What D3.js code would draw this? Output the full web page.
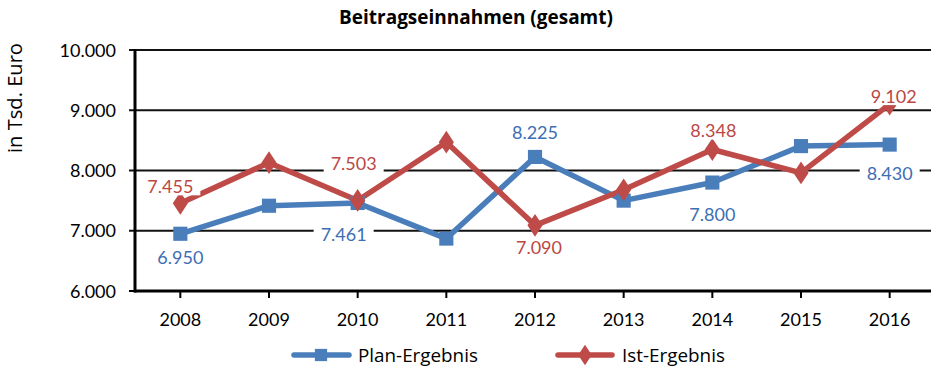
<!DOCTYPE html>
<html>
<head>
<meta charset="utf-8">
<script src="https://cdn.jsdelivr.net/npm/d3@7"></script>
<style>
  html, body { margin: 0; padding: 0; background: #fff; }
  svg { display: block; font-family: Lato, "Open Sans", sans-serif; }
</style>
</head>
<body>
<svg id="chart" width="931" height="368"></svg>
<script>
// Beitragseinnahmen 2008–2016, in Tsd. Euro
const years = ["2008", "2009", "2010", "2011", "2012", "2013", "2014", "2015", "2016"];
const planValues = [6950, 7415, 7461, 6870, 8225, 7500, 7800, 8405, 8430];
const istValues = [7455, 8130, 7503, 8470, 7090, 7680, 8348, 7960, 9102];
const yTicks = [6000, 7000, 8000, 9000, 10000];
// value labels shown for each series (null = no label)
const planLabels = [6950, null, 7461, null, 8225, null, 7800, null, 8430];
const istLabels = [7455, null, 7503, null, 7090, null, 8348, null, 9102];

const fmt = v => d3.format(",")(v).replace(/,/g, ".");

const blue = "#4A7EBB", red = "#BE4B48";
const blueText = "#3D6EB4", redText = "#BB4744";

const svg = d3.select("#chart");
const x = d3.scalePoint().domain(years).range([136, 934]).padding(0.5);
const y = d3.scaleLinear().domain([6000, 10000]).range([291, 50]);

// shrink or grow a text's font size until it spans the given width
function fitWidth(sel, width) {
  const n = sel.node();
  const fs = parseFloat(sel.attr("font-size"));
  const w = n.getComputedTextLength();
  sel.attr("font-size", (fs * width / w).toFixed(2));
  return sel;
}

// title
fitWidth(svg.append("text").attr("x", 476).attr("y", 24).attr("text-anchor", "middle")
  .attr("font-weight", "bold").attr("font-size", 17).attr("fill", "#000")
  .style("font-family", "'Open Sans', sans-serif")
  .text("Beitragseinnahmen (gesamt)"), 274);

// y axis title
fitWidth(svg.append("text").attr("transform", "translate(22,98) rotate(-90)")
  .attr("text-anchor", "middle").attr("font-size", 18).attr("fill", "#000")
  .style("font-family", "'Open Sans', sans-serif")
  .text("in Tsd. Euro"), 110);

// gridlines + y tick labels
svg.append("g").selectAll("line").data(yTicks.filter(t => t > 6000)).join("line")
  .attr("x1", 129).attr("x2", 931)
  .attr("y1", d => y(d)).attr("y2", d => y(d))
  .attr("stroke", "#111").attr("stroke-width", 2);
svg.append("g").selectAll("text").data(yTicks).join("text")
  .attr("x", 116).attr("y", d => y(d) + 6.5).attr("text-anchor", "end")
  .attr("font-size", 18).attr("fill", "#000").text(fmt);
svg.append("line").attr("x1", 129).attr("x2", 135).attr("y1", y(6000)).attr("y2", y(6000))
  .attr("stroke", "#000").attr("stroke-width", 2);

// axes lines
svg.append("line").attr("x1", 135).attr("x2", 135).attr("y1", y(10000) - 1).attr("y2", y(6000) + 1.5)
  .attr("stroke", "#000").attr("stroke-width", 3);
svg.append("line").attr("x1", 134).attr("x2", 931).attr("y1", y(6000)).attr("y2", y(6000))
  .attr("stroke", "#000").attr("stroke-width", 3);
svg.append("g").selectAll("line").data(years).join("line")
  .attr("x1", d => x(d)).attr("x2", d => x(d))
  .attr("y1", y(6000)).attr("y2", y(6000) + 7)
  .attr("stroke", "#000").attr("stroke-width", 2);
svg.append("g").selectAll("text").data(years).join("text")
  .attr("x", d => x(d)).attr("y", 326).attr("text-anchor", "middle")
  .attr("font-size", 18).attr("fill", "#000").text(d => d);

const line = d3.line().x((d, i) => x(years[i])).y(d => y(d));

// series lines
svg.append("path").datum(planValues).attr("d", line)
  .attr("fill", "none").attr("stroke", blue).attr("stroke-width", 5.5).attr("stroke-linejoin", "round");
svg.append("path").datum(istValues).attr("d", line)
  .attr("fill", "none").attr("stroke", red).attr("stroke-width", 5.5).attr("stroke-linejoin", "round");

// markers
const sq = d3.symbol().type(d3.symbolSquare).size(200);
const dia = d3.symbol().type(d3.symbolDiamond).size(150);
svg.append("g").selectAll("path").data(planValues).join("path")
  .attr("d", sq).attr("transform", (d, i) => `translate(${x(years[i])},${y(d)})`)
  .attr("fill", blue);
svg.append("g").selectAll("path").data(istValues).join("path")
  .attr("d", dia).attr("transform", (d, i) => `translate(${x(years[i])},${y(d)}) scale(1.15,1)`)
  .attr("fill", red);

// data labels with white backing boxes
const placePlan = { 0: [0, 24], 2: [-14, 32], 4: [0, -24], 6: [0, 32], 8: [0, 29] };
const placeIst = { 0: [-10, -17], 2: [-4, -37], 4: [4, 22], 6: [1, -19], 8: [4, -8] };
function labels(vals, place, color) {
  const g = svg.append("g");
  vals.forEach((v, i) => {
    if (v == null) return;
    const [dx, dy] = place[i];
    const cx = x(years[i]) + dx, cy = y(v) + dy;
    const t = g.append("text").attr("x", cx).attr("y", cy + 6.5)
      .attr("text-anchor", "middle").attr("font-size", 18).attr("fill", color).text(fmt(v));
    const bb = t.node().getBBox();
    g.insert("rect", "text").attr("x", bb.x - 7).attr("y", cy - 9)
      .attr("width", bb.width + 14).attr("height", 18).attr("fill", "#fff");
  });
}
labels(planLabels, placePlan, blueText);
labels(istLabels, placeIst, redText);

// legend
const lg = svg.append("g");
lg.append("line").attr("x1", 294).attr("x2", 349).attr("y1", 355).attr("y2", 355)
  .attr("stroke", blue).attr("stroke-width", 5.5).attr("stroke-linecap", "round");
lg.append("path").attr("d", d3.symbol().type(d3.symbolSquare).size(150)).attr("transform", "translate(321,355)").attr("fill", blue);
fitWidth(lg.append("text").attr("x", 358).attr("y", 361.5).attr("font-size", 19).attr("fill", "#000")
  .style("font-family", "'Open Sans', sans-serif").text("Plan-Ergebnis"), 120);
lg.append("line").attr("x1", 558).attr("x2", 612).attr("y1", 355).attr("y2", 355)
  .attr("stroke", red).attr("stroke-width", 5.5).attr("stroke-linecap", "round");
lg.append("path").attr("d", d3.symbol().type(d3.symbolDiamond).size(120)).attr("transform", "translate(585,355) scale(1.15,1)").attr("fill", red);
fitWidth(lg.append("text").attr("x", 622).attr("y", 361.5).attr("font-size", 19).attr("fill", "#000")
  .style("font-family", "'Open Sans', sans-serif").text("Ist-Ergebnis"), 103);
</script>
</body>
</html>
